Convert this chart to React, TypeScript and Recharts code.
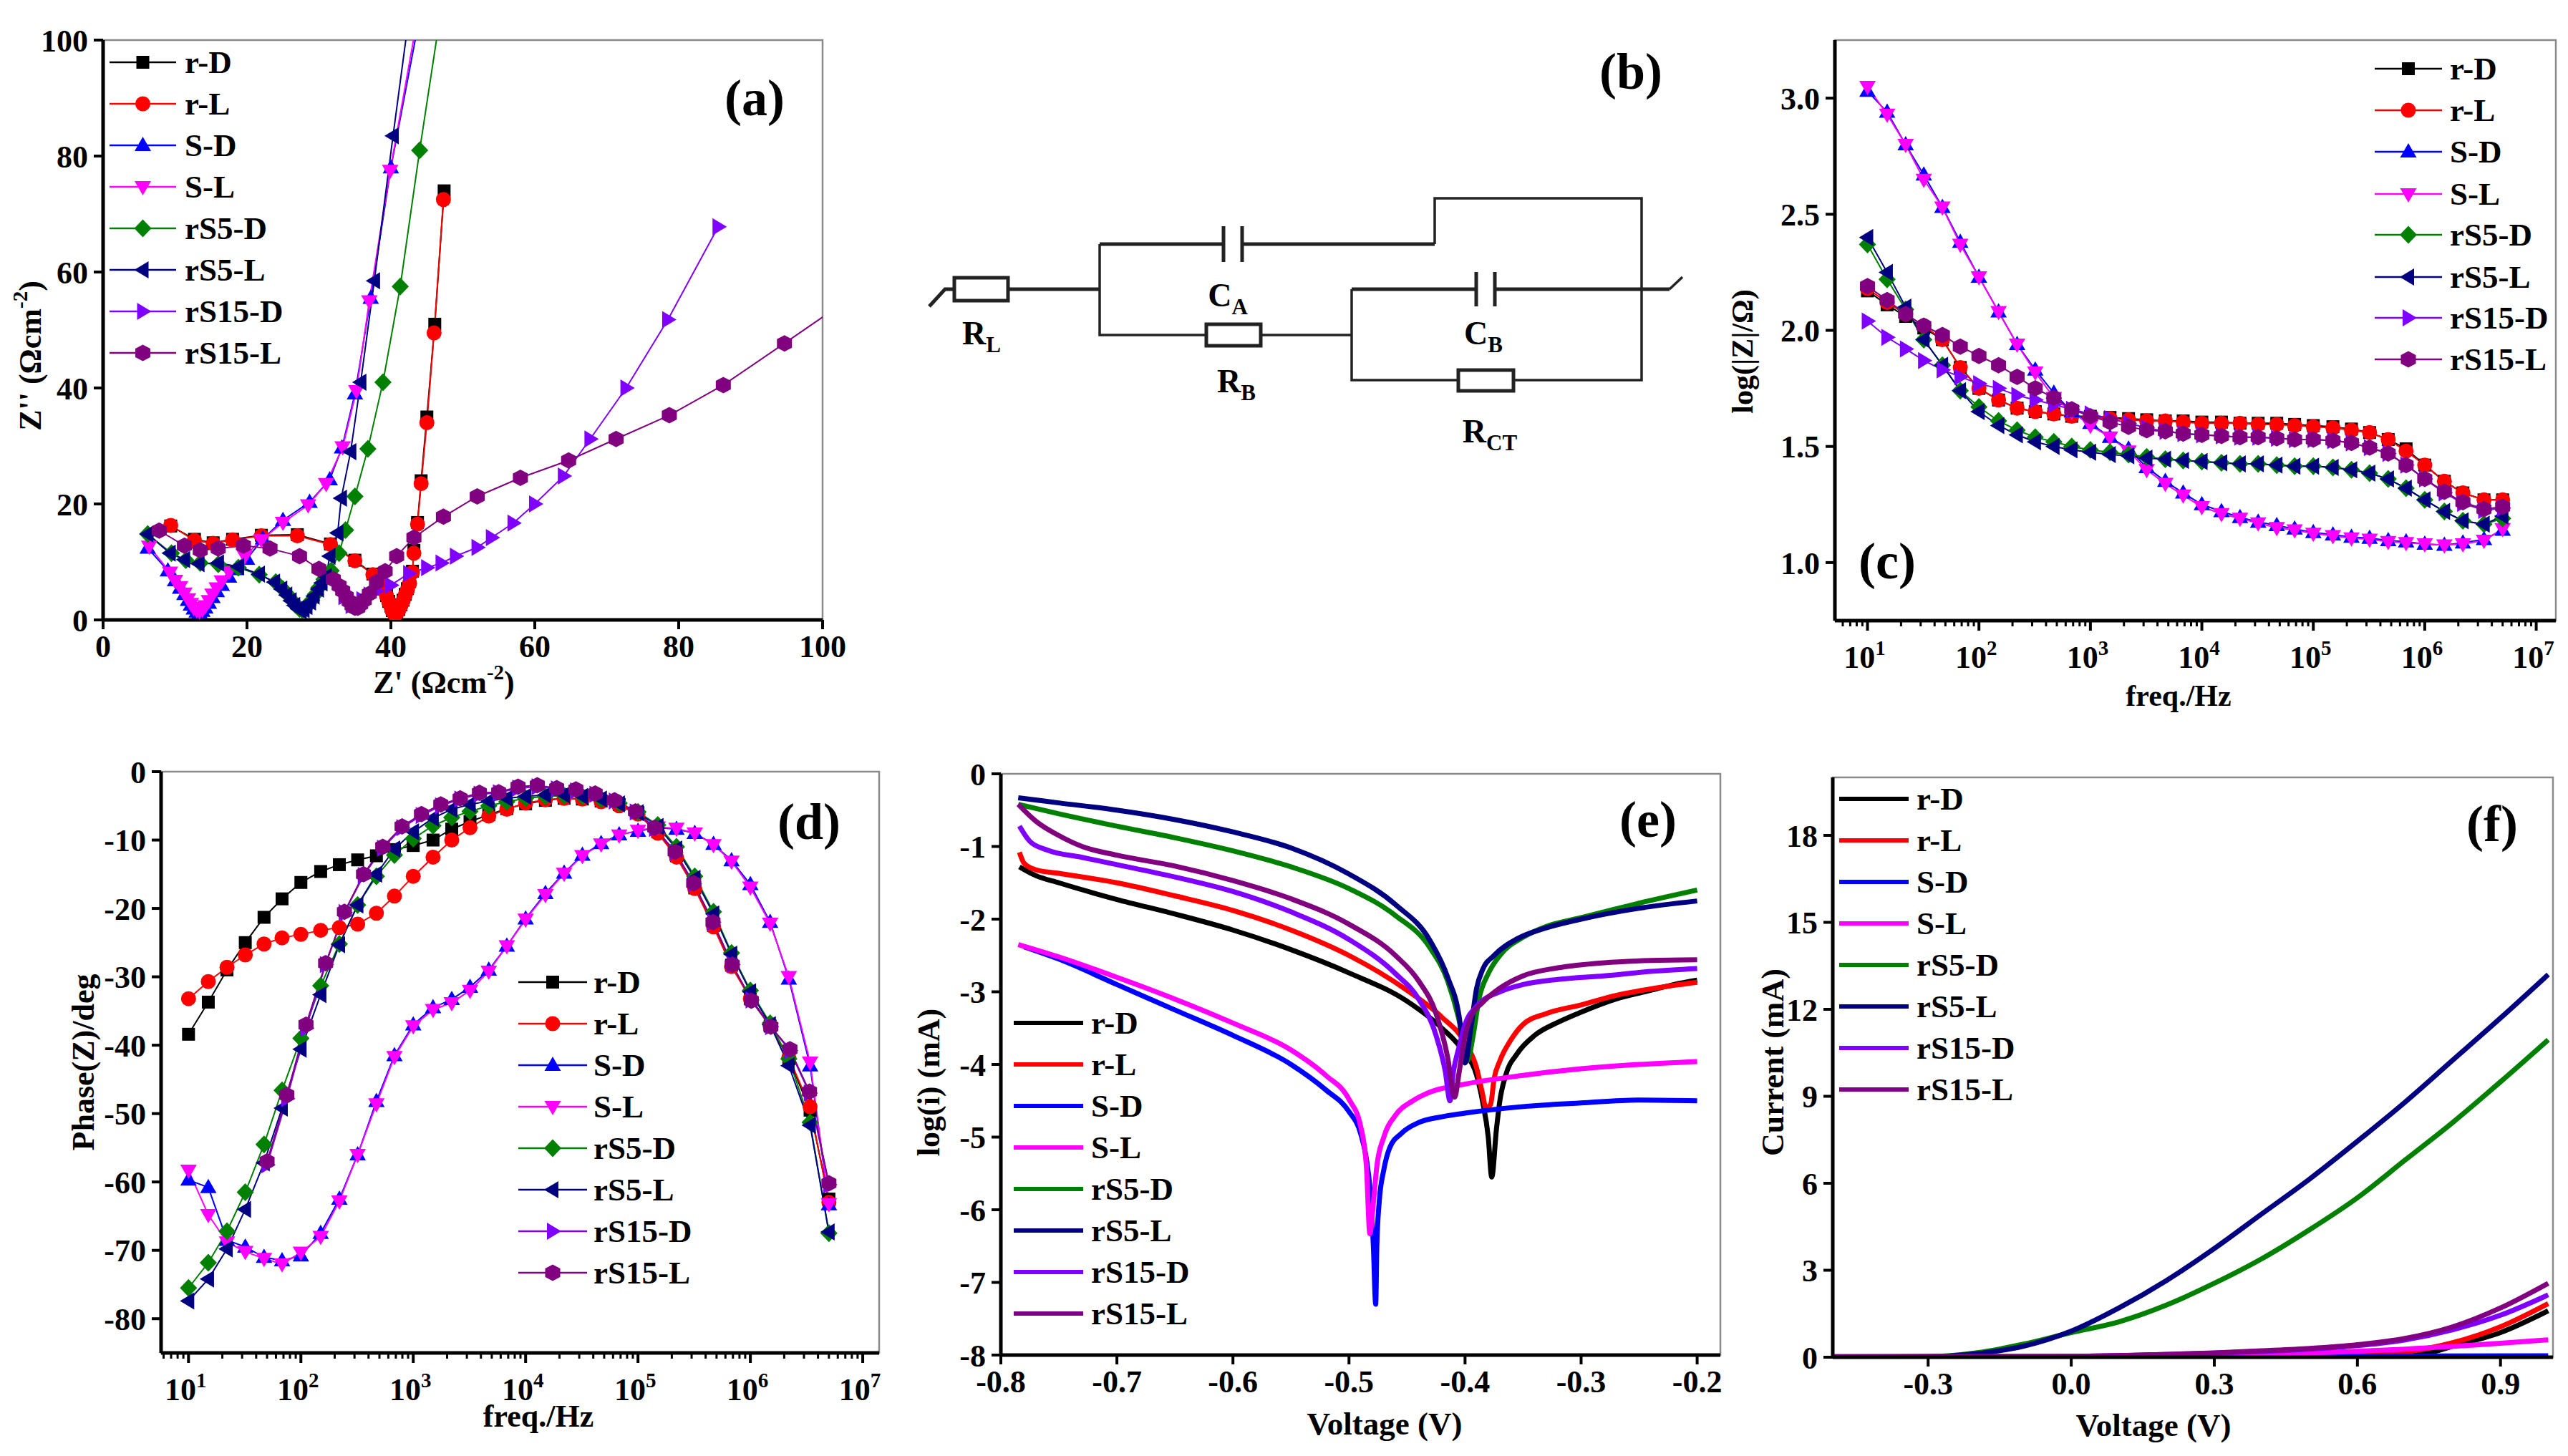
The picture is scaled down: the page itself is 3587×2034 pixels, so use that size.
import React from "react";
import { LineChart, Line, XAxis, YAxis, ReferenceArea } from "recharts";

const FONT = "'Liberation Serif', 'Times New Roman', serif";
const NAMES = ["r-D", "r-L", "S-D", "S-L", "rS5-D", "rS5-L", "rS15-D", "rS15-L"];
const COLORS = ["#000000", "#ff0000", "#0000ff", "#ff00ff", "#008000", "#000080", "#8000ff", "#800080"];
const SHAPES = ["square", "circle", "up", "down", "diamond", "left", "right", "hex"];

// ---------- Panel (a): Nyquist [Z', Z''] ----------
const aRD = [[9.4,16.2],[12.7,13.9],[15.3,13.3],[18,13.9],[22,14.6],[27,14.7],[31.6,13.1],[35,10.3],[37.5,7.9],[38.5,6.5],[39,5.3],[39.4,4.2],[39.7,3.2],[40,2.4],[40.2,1.6],[40.5,1.1],[40.8,1.2],[41.1,1.8],[41.4,2.6],[41.7,3.4],[42,4.4],[42.3,5.4],[42.6,6.6],[43,8.4],[43.2,12],[43.7,16.8],[44.2,24],[45,35],[46.1,51],[47.4,74]];
const aRL = [[9.4,16.3],[12.7,13.7],[15.3,13.2],[18,13.8],[22,14.5],[27,14.5],[31.6,13],[35,10.2],[37.5,7.8],[38.5,6.3],[39,5.2],[39.4,4.1],[39.7,3.1],[40,2.3],[40.2,1.5],[40.5,1],[40.8,1.1],[41.1,1.7],[41.4,2.5],[41.7,3.3],[42,4.3],[42.3,5.2],[42.6,6.3],[43,8.2],[43.2,11.5],[43.7,16.5],[44.2,23.5],[45,34],[46,49.5],[47.3,72.5]];
const aSD = [[6.2,12.4],[9,8.5],[10,6.8],[10.7,5.5],[11.3,4.4],[11.8,3.4],[12.2,2.6],[12.6,1.9],[13,1.4],[13.4,1.2],[13.8,1.5],[14.2,2.1],[14.7,2.9],[15.2,3.9],[15.8,4.9],[16.5,6],[17.5,7.4],[18.5,8.7],[20,10.5],[22.2,14],[25,17.2],[28.7,20.3],[31.5,24.2],[33.2,29.7],[35,39],[37.2,55.5],[40,78],[44.3,106]];
const aSL = [[6.4,12.7],[9.3,8.2],[10,6.8],[10.7,5.7],[11.3,4.6],[11.8,3.6],[12.2,2.8],[12.6,2.1],[13,1.7],[13.4,1.5],[13.8,1.8],[14.2,2.4],[14.7,3.3],[15.2,4.4],[15.8,5.5],[16.5,6.7],[17.5,8.3],[19.7,11],[22,13.8],[25,16.8],[28.5,19.8],[31,23.5],[33.3,29.8],[35.2,39.5],[37,55],[39.9,77.5],[44,106]];
const aS5D = [[6.2,14.8],[9.5,11.5],[11.5,10.3],[13.5,9.8],[16,9.6],[18.8,9],[21.7,7.8],[24,6.5],[25,5.3],[25.7,4.3],[26.3,3.3],[26.8,2.5],[27.3,1.9],[27.7,1.7],[28.1,2],[28.5,2.6],[29,3.4],[29.5,4.4],[30,5.6],[30.7,7],[31.7,8.5],[32.8,11.5],[33.7,15.5],[35,21.3],[36.8,29.5],[38.9,41],[41.3,57.5],[44,81],[46.7,103]];
const aS5L = [[6.2,14.8],[9.3,11.5],[11.3,10.4],[13.3,9.7],[16,9.8],[18.8,9.2],[21.7,7.9],[23.8,6.5],[24.8,5.3],[25.5,4.3],[26.1,3.3],[26.6,2.5],[27.1,1.9],[27.5,1.6],[27.9,1.8],[28.3,2.3],[28.8,3.1],[29.3,4.1],[29.9,5.3],[30.4,6.4],[31,7.5],[31.5,11],[32.6,15],[33.1,21],[34.4,29],[35.8,41],[37.7,58.5],[40.3,83.5],[42.5,104]];
const aS15D = [[33.5,4],[34.5,2.5],[35.2,2.6],[36,3.5],[37,4.3],[38,5],[40,6],[42.5,8],[45,9],[47,9.8],[49,11],[52,12.5],[54,14.2],[57,16.7],[60,20],[64,24.8],[67.7,31.2],[72.7,40],[78.5,51.8],[85.5,67.8]];
const aS15L = [[7.8,15.4],[11.3,12.8],[13.5,12],[16,12.3],[19.5,12.8],[23.2,12.3],[27.3,11],[30,8.8],[32,7],[32.8,5.9],[33.3,5],[33.8,4],[34.2,3.2],[34.6,2.5],[35,2.1],[35.4,2.1],[35.8,2.7],[36.3,3.4],[37,4.5],[38,6.5],[39.2,8.4],[40.8,11],[43.2,14.2],[47.3,17.8],[52,21.3],[58,24.5],[64.7,27.5],[71.3,31.2],[78.7,35.3],[86.2,40.5],[94.7,47.7],[101.5,53.5]];

// ---------- Frequencies ----------
const freq = [10,15,22,32,47,68,100,150,220,320,470,680,1000,1500,2200,3200,4700,6800,10000,15000,22000,32000,47000,68000,100000,150000,220000,320000,470000,680000,1000000,1500000,2200000,3400000,5000000];
const freqS15 = [50,75,111,166,244,361,535,795,1183,1758,2612,3880,5760,8560,12700,18900,28000,41600,61800,95000,141000,214000,313000,465000,690000,1020000,1520000,2250000,3360000,5000000];

// ---------- Panel (c): log|Z| ----------
const cRD = [2.17,2.11,2.06,2.01,1.96,1.84,1.75,1.70,1.665,1.65,1.64,1.63,1.63,1.625,1.62,1.615,1.61,1.61,1.605,1.605,1.60,1.60,1.60,1.595,1.59,1.585,1.575,1.56,1.53,1.49,1.42,1.35,1.30,1.27,1.27];
const cRL = [2.18,2.12,2.07,2.02,1.96,1.84,1.75,1.70,1.665,1.65,1.64,1.63,1.625,1.62,1.615,1.61,1.61,1.605,1.60,1.60,1.60,1.595,1.595,1.59,1.585,1.58,1.57,1.56,1.53,1.48,1.42,1.35,1.30,1.27,1.27];
const cSD = [3.03,2.94,2.80,2.67,2.53,2.38,2.23,2.08,1.94,1.83,1.73,1.65,1.60,1.54,1.49,1.41,1.35,1.30,1.25,1.22,1.195,1.175,1.16,1.145,1.13,1.12,1.11,1.105,1.095,1.09,1.08,1.075,1.085,1.10,1.14];
const cSL = [3.05,2.93,2.80,2.65,2.53,2.37,2.23,2.08,1.94,1.82,1.71,1.65,1.59,1.54,1.48,1.40,1.34,1.29,1.24,1.21,1.19,1.17,1.15,1.14,1.125,1.115,1.105,1.10,1.09,1.085,1.08,1.075,1.08,1.095,1.145];
const cS5D = [2.37,2.22,2.09,1.96,1.85,1.74,1.67,1.61,1.57,1.54,1.52,1.50,1.485,1.475,1.465,1.455,1.445,1.44,1.435,1.43,1.425,1.425,1.42,1.415,1.415,1.41,1.40,1.385,1.36,1.32,1.27,1.22,1.18,1.165,1.19];
const cS5L = [2.40,2.25,2.10,1.96,1.85,1.74,1.65,1.59,1.55,1.52,1.50,1.485,1.475,1.465,1.46,1.45,1.445,1.44,1.435,1.43,1.425,1.425,1.42,1.415,1.415,1.41,1.40,1.385,1.36,1.32,1.27,1.22,1.18,1.165,1.20];
const cS15D = [2.04,1.97,1.92,1.87,1.83,1.80,1.77,1.75,1.72,1.70,1.68,1.66,1.64,1.62,1.60,1.58,1.565,1.555,1.55,1.545,1.54,1.54,1.535,1.53,1.53,1.525,1.515,1.495,1.47,1.42,1.36,1.30,1.255,1.225,1.235];
const cS15L = [2.19,2.13,2.07,2.02,1.98,1.93,1.89,1.85,1.80,1.75,1.71,1.66,1.63,1.605,1.585,1.57,1.565,1.555,1.55,1.545,1.54,1.54,1.535,1.53,1.53,1.525,1.515,1.495,1.47,1.42,1.36,1.305,1.26,1.23,1.24];

// ---------- Panel (d): phase ----------
const dRD = [-38.4,-33.7,-29,-25,-21.3,-18.6,-16.2,-14.6,-13.6,-12.9,-12.3,-11.4,-10.8,-10,-8.4,-7.3,-6.3,-5.4,-4.7,-4.2,-3.9,-4,-4.3,-4.8,-6,-8.8,-12.3,-17,-22.5,-28.3,-33,-37.2,-42,-49.5,-62.5];
const dRL = [-33.2,-30.7,-28.6,-26.8,-25.2,-24.3,-23.8,-23.2,-22.8,-22.3,-20.7,-18.2,-15.3,-12.5,-10,-8.2,-6.5,-5.5,-4.6,-4.1,-3.9,-4,-4.4,-5,-6.2,-9,-12.5,-17.1,-22.7,-28.5,-33.2,-37.2,-41.8,-49,-63];
const dSD = [-59.7,-60.8,-68.5,-69.5,-71,-71.5,-70.8,-67.5,-62.5,-56,-48.2,-41.5,-37,-34.5,-33.3,-31.5,-29,-25.5,-21.5,-17.8,-14.8,-12.2,-10.5,-9.2,-8.7,-8.2,-8.4,-9,-10.6,-13,-16.5,-22,-30.3,-43,-63.3];
const dSL = [-58.3,-64.8,-68.8,-70.2,-71.2,-72,-70.3,-68,-62.8,-56,-48.6,-41.7,-37.2,-34.8,-33.8,-32,-29.2,-25.5,-21.6,-18,-14.9,-12.3,-10.6,-9.3,-8.6,-8.1,-8.3,-9,-10.7,-13.1,-16.9,-22.2,-30,-42.5,-63.2];
const dS5D = [-75.5,-71.8,-67.2,-61.5,-54.5,-46.6,-39,-31.3,-25.2,-19.5,-15.3,-12.2,-9.8,-7.9,-6.7,-5.8,-5,-4.4,-3.9,-3.6,-3.5,-3.6,-4,-4.6,-5.9,-7.8,-11,-15.3,-20.5,-26.5,-32,-36.8,-42,-51.3,-67.5];
const dS5L = [-77.4,-74.2,-69.8,-64,-57.2,-49.2,-40.6,-32.6,-25.3,-19.5,-15,-11.3,-8.8,-6.8,-5.5,-4.8,-4.3,-3.9,-3.6,-3.4,-3.4,-3.6,-4,-4.7,-6,-8,-11.3,-15.6,-20.8,-26.7,-32.2,-37,-43,-51.7,-67.3];
const dS15D = [-57.5,-47.8,-37.5,-28.2,-20.6,-15.2,-11.2,-8.2,-6.4,-5,-4,-3.3,-3.1,-2.4,-2.2,-2.5,-2.8,-3.3,-4.3,-5.9,-8.3,-11.8,-16.4,-22,-28.2,-33.4,-37.3,-40.8,-47,-60.4];
const dS15L = [-57,-47.3,-37,-28,-20.5,-15,-11,-8,-6.2,-4.8,-3.9,-3.1,-3,-2.2,-2,-2.4,-2.6,-3.2,-4.2,-5.8,-8.2,-11.7,-16.3,-22,-28.2,-33.5,-37.3,-40.6,-46.8,-60.2];

// ---------- Panel (e): Tafel [V, log i] ----------
const eRD = [[-0.784,-1.28],[-0.77,-1.4],[-0.75,-1.5],[-0.7,-1.73],[-0.65,-1.93],[-0.6,-2.15],[-0.55,-2.42],[-0.5,-2.74],[-0.45,-3.13],[-0.42,-3.5],[-0.4,-3.85],[-0.39,-4.15],[-0.385,-4.5],[-0.38,-5],[-0.377,-5.55],[-0.373,-4.9],[-0.37,-4.5],[-0.365,-4.15],[-0.355,-3.85],[-0.34,-3.6],[-0.32,-3.42],[-0.3,-3.28],[-0.27,-3.1],[-0.24,-2.98],[-0.22,-2.9],[-0.2,-2.84]];
const eRL = [[-0.784,-1.08],[-0.78,-1.23],[-0.77,-1.32],[-0.75,-1.37],[-0.7,-1.5],[-0.65,-1.68],[-0.6,-1.88],[-0.55,-2.15],[-0.5,-2.5],[-0.45,-2.98],[-0.42,-3.35],[-0.4,-3.7],[-0.39,-4.05],[-0.385,-4.4],[-0.382,-4.6],[-0.378,-4.55],[-0.375,-4.2],[-0.37,-3.95],[-0.36,-3.65],[-0.35,-3.45],[-0.33,-3.3],[-0.3,-3.18],[-0.27,-3.05],[-0.24,-2.96],[-0.2,-2.87]];
const eSD = [[-0.78,-2.38],[-0.75,-2.55],[-0.7,-2.9],[-0.65,-3.25],[-0.6,-3.6],[-0.55,-4],[-0.52,-4.35],[-0.5,-4.65],[-0.49,-4.95],[-0.485,-5.3],[-0.482,-5.7],[-0.479,-6.5],[-0.477,-7.3],[-0.476,-6.5],[-0.474,-5.9],[-0.47,-5.45],[-0.465,-5.15],[-0.455,-4.95],[-0.44,-4.8],[-0.42,-4.72],[-0.4,-4.67],[-0.35,-4.58],[-0.3,-4.53],[-0.25,-4.49],[-0.2,-4.5]];
const eSL = [[-0.785,-2.35],[-0.75,-2.52],[-0.7,-2.8],[-0.65,-3.1],[-0.6,-3.43],[-0.55,-3.8],[-0.52,-4.15],[-0.5,-4.48],[-0.49,-4.85],[-0.485,-5.4],[-0.482,-6.33],[-0.479,-5.9],[-0.476,-5.4],[-0.47,-5],[-0.46,-4.7],[-0.445,-4.5],[-0.43,-4.38],[-0.4,-4.27],[-0.35,-4.15],[-0.3,-4.06],[-0.25,-4],[-0.2,-3.96]];
const eS5D = [[-0.785,-0.42],[-0.75,-0.55],[-0.7,-0.72],[-0.65,-0.88],[-0.6,-1.06],[-0.55,-1.28],[-0.5,-1.58],[-0.46,-1.95],[-0.43,-2.4],[-0.415,-2.85],[-0.405,-3.4],[-0.398,-3.95],[-0.393,-3.6],[-0.388,-3.1],[-0.38,-2.75],[-0.37,-2.5],[-0.35,-2.25],[-0.33,-2.1],[-0.3,-1.98],[-0.25,-1.78],[-0.2,-1.6]];
const eS5L = [[-0.785,-0.33],[-0.75,-0.4],[-0.7,-0.5],[-0.65,-0.63],[-0.6,-0.8],[-0.55,-1.02],[-0.5,-1.38],[-0.46,-1.8],[-0.43,-2.3],[-0.415,-2.8],[-0.405,-3.35],[-0.4,-3.98],[-0.395,-3.5],[-0.39,-2.95],[-0.385,-2.7],[-0.375,-2.5],[-0.355,-2.27],[-0.33,-2.12],[-0.3,-2],[-0.25,-1.85],[-0.2,-1.75]];
const eS15D = [[-0.784,-0.72],[-0.775,-0.93],[-0.76,-1.05],[-0.73,-1.15],[-0.7,-1.25],[-0.65,-1.42],[-0.6,-1.62],[-0.55,-1.9],[-0.5,-2.28],[-0.46,-2.75],[-0.44,-3.1],[-0.425,-3.6],[-0.417,-4.1],[-0.413,-4.5],[-0.41,-4.1],[-0.405,-3.75],[-0.4,-3.45],[-0.39,-3.2],[-0.37,-3],[-0.35,-2.9],[-0.32,-2.83],[-0.28,-2.78],[-0.24,-2.72],[-0.2,-2.68]];
const eS15L = [[-0.785,-0.42],[-0.77,-0.65],[-0.75,-0.85],[-0.73,-1],[-0.7,-1.12],[-0.65,-1.27],[-0.6,-1.47],[-0.55,-1.72],[-0.5,-2.07],[-0.46,-2.5],[-0.44,-2.85],[-0.425,-3.3],[-0.415,-3.9],[-0.409,-4.45],[-0.405,-4.1],[-0.4,-3.6],[-0.395,-3.35],[-0.385,-3.15],[-0.37,-2.95],[-0.35,-2.78],[-0.32,-2.67],[-0.28,-2.6],[-0.24,-2.57],[-0.2,-2.56]];

// ---------- Panel (f): I-V [V, I] ----------
const fRD = [[-0.5,0],[0,0],[0.6,0.02],[0.7,0.05],[0.75,0.15],[0.8,0.38],[0.9,0.85],[1,1.6]];
const fRL = [[-0.5,0],[0,0.01],[0.5,0.02],[0.6,0.05],[0.7,0.18],[0.8,0.5],[0.9,1.05],[1,1.85]];
const fSD = [[-0.5,0],[0,0.01],[0.5,0.03],[1,0.05]];
const fSL = [[-0.5,0],[0,0.02],[0.3,0.08],[0.5,0.15],[0.7,0.28],[0.9,0.48],[1,0.6]];
const fS5D = [[-0.5,0],[-0.3,0.02],[-0.2,0.15],[-0.1,0.45],[0,0.85],[0.1,1.22],[0.2,1.8],[0.3,2.55],[0.4,3.4],[0.5,4.4],[0.6,5.5],[0.7,6.8],[0.8,8.1],[0.9,9.5],[1,10.95]];
const fS5L = [[-0.5,0],[-0.3,0.02],[-0.2,0.12],[-0.1,0.38],[0,0.9],[0.1,1.7],[0.2,2.65],[0.3,3.75],[0.4,4.95],[0.5,6.15],[0.6,7.45],[0.7,8.8],[0.8,10.25],[0.9,11.7],[1,13.2]];
const fS15D = [[-0.5,0.02],[0,0.03],[0.2,0.09],[0.3,0.14],[0.4,0.2],[0.5,0.28],[0.6,0.4],[0.7,0.6],[0.8,0.95],[0.9,1.45],[1,2.15]];
const fS15L = [[-0.5,0.02],[0,0.03],[0.2,0.1],[0.3,0.15],[0.4,0.22],[0.5,0.3],[0.6,0.43],[0.7,0.65],[0.8,1.05],[0.9,1.7],[1,2.55]];

// ---------- Axis ticks ----------
const aTicks = [0, 20, 40, 60, 80, 100];
const cYTicks = [1, 1.5, 2, 2.5, 3];
const dYTicks = [0, -10, -20, -30, -40, -50, -60, -70, -80];
const eXTicks = [-0.8, -0.7, -0.6, -0.5, -0.4, -0.3, -0.2];
const eYTicks = [0, -1, -2, -3, -4, -5, -6, -7, -8];
const fXTicks = [-0.3, 0, 0.3, 0.6, 0.9];
const fYTicks = [0, 3, 6, 9, 12, 15, 18];
const logTicks = [6,7,8,9,10,20,30,40,50,60,70,80,90,100,200,300,400,500,600,700,800,900,1000,2000,3000,4000,5000,6000,7000,8000,9000,10000,20000,30000,40000,50000,60000,70000,80000,90000,100000,200000,300000,400000,500000,600000,700000,800000,900000,1000000,2000000,3000000,4000000,5000000,6000000,7000000,8000000,9000000,10000000];

const pairs = (arr: number[][]) => arr.map(([x, y]) => ({ x, y }));
const zip = (xs: number[], ys: number[]) => ys.map((y, i) => ({ x: xs[i], y }));

const seriesA = [aRD, aRL, aSD, aSL, aS5D, aS5L, aS15D, aS15L].map(pairs);
const seriesC = [cRD, cRL, cSD, cSL, cS5D, cS5L, cS15D, cS15L].map((v) => zip(freq, v));
const seriesD = [dRD, dRL, dSD, dSL, dS5D, dS5L].map((v) => zip(freq, v)).concat([dS15D, dS15L].map((v) => zip(freqS15, v)));
const seriesE = [eRD, eRL, eSD, eSL, eS5D, eS5L, eS15D, eS15L].map(pairs);
const seriesF = [fRD, fRL, fSD, fSL, fS5D, fS5L, fS15D, fS15L].map(pairs);

function Marker({ cx, cy, shape, color, k = 1 }: any) {
  const p = (pts: number[][]) => pts.map(([a, b]) => `${cx + a * k},${cy + b * k}`).join(" ");
  if (shape === "square") return <rect x={cx - 9 * k} y={cy - 9 * k} width={18 * k} height={18 * k} fill={color} />;
  if (shape === "circle") return <circle cx={cx} cy={cy} r={10.5 * k} fill={color} />;
  const d: Record<string, number[][]> = {
    up: [[0, -12], [11.5, 8], [-11.5, 8]],
    down: [[0, 12], [11.5, -8], [-11.5, -8]],
    diamond: [[0, -12.5], [12, 0], [0, 12.5], [-12, 0]],
    left: [[-12, 0], [8, -12], [8, 12]],
    right: [[12, 0], [-8, -12], [-8, 12]],
    hex: [[0, -11.5], [10.5, -6], [10.5, 6], [0, 11.5], [-10.5, 6], [-10.5, -6]],
  };
  return <polygon points={p(d[shape])} fill={color} />;
}

function LogTick({ x, y, payload }: any) {
  const e = Math.log10(payload.value);
  const major = Math.abs(e - Math.round(e)) < 1e-6;
  return (
    <g>
      <line x1={x} x2={x} y1={y} y2={y + (major ? 14 : 8)} stroke="#000" strokeWidth={major ? 4 : 3} />
      {major && (
        <text x={x - 4} y={y + 66} textAnchor="middle" fontFamily={FONT} fontWeight="bold" fontSize={44} fill="#000">
          10
          <tspan dy={-18} fontSize={29}>{Math.round(e)}</tspan>
        </text>
      )}
    </g>
  );
}

const ML = 170, MR = 60, MT = 40, MB = 130;
const tickStyle = { fontFamily: FONT, fontWeight: "bold", fontSize: 44, fill: "#000" };

function Panel({ box, xDomain, yDomain, xTicks, yTicks, xLog, xFmt, yFmt, series, width, markers, curve }: any) {
  const W = box.r - box.l + ML + MR;
  const H = box.b - box.t + MT + MB;
  return (
    <div style={{ position: "absolute", left: box.l - ML, top: box.t - MT }}>
      <LineChart width={W} height={H} margin={{ top: MT, right: MR, left: 0, bottom: 0 }}>
        <XAxis
          dataKey="x"
          type="number"
          scale={xLog ? "log" : "linear"}
          domain={xDomain}
          ticks={xTicks}
          interval={0}
          height={MB}
          allowDataOverflow
          axisLine={{ stroke: "#000", strokeWidth: 5 }}
          tickLine={xLog ? false : { stroke: "#000", strokeWidth: 4 }}
          tickSize={xLog ? 0 : 13}
          tickMargin={xLog ? 0 : 8}
          tick={xLog ? <LogTick /> : tickStyle}
          tickFormatter={xFmt}
        />
        <YAxis
          type="number"
          domain={yDomain}
          ticks={yTicks}
          interval={0}
          width={ML}
          allowDataOverflow
          axisLine={{ stroke: "#000", strokeWidth: 5 }}
          tickLine={{ stroke: "#000", strokeWidth: 4 }}
          tickSize={13}
          tickMargin={8}
          tick={tickStyle}
          tickFormatter={yFmt}
        />
        <ReferenceArea x1={xDomain[0]} x2={xDomain[1]} y1={yDomain[0]} y2={yDomain[1]} fill="none" stroke="#8a8a8a" strokeWidth={2.5} ifOverflow="visible" />
        {series.map((d: any[], i: number) => (
          <Line
            key={NAMES[i]}
            name={NAMES[i]}
            data={d}
            dataKey="y"
            type={curve || "linear"}
            stroke={COLORS[i]}
            strokeWidth={width}
            isAnimationActive={false}
            dot={
              markers
                ? (p: any) => <Marker key={`${NAMES[i]}-${p.index}`} cx={p.cx} cy={p.cy} shape={SHAPES[i]} color={COLORS[i]} />
                : false
            }
          />
        ))}
      </LineChart>
    </div>
  );
}

function LegendBlock({ x1, x2, textX, ys, markers, width }: any) {
  return (
    <g>
      {NAMES.map((n, i) => (
        <g key={n}>
          <line x1={x1} x2={x2} y1={ys[i]} y2={ys[i]} stroke={COLORS[i]} strokeWidth={width} />
          {markers && <Marker cx={(x1 + x2) / 2} cy={ys[i]} shape={SHAPES[i]} color={COLORS[i]} />}
          <text x={textX} y={ys[i] + 15} fontFamily={FONT} fontWeight="bold" fontSize={45} fill="#000">{n}</text>
        </g>
      ))}
    </g>
  );
}

const T = ({ x, y, size = 45, rot, anchor = "middle", children }: any) => (
  <text
    x={x}
    y={y}
    fontFamily={FONT}
    fontWeight="bold"
    fontSize={size}
    fill="#000"
    textAnchor={anchor}
    dominantBaseline="central"
    transform={rot ? `rotate(${rot} ${x} ${y})` : undefined}
  >
    {children}
  </text>
);

const Sub = ({ x, y, main, sub }: any) => (
  <text x={x} y={y} fontFamily={FONT} fontWeight="bold" fontSize={46} fill="#000" textAnchor="middle">
    {main}
    <tspan dy={11} fontSize={31}>{sub}</tspan>
  </text>
);

function Circuit() {
  const thin = { stroke: "#222", strokeWidth: 3.5, fill: "none" };
  const thick = { stroke: "#222", strokeWidth: 5, fill: "none" };
  return (
    <g>
      <path d="M1298 428 L1320 404 H1333" {...thick} />
      <rect x={1333} y={388} width={75} height={32} {...thick} />
      <path d="M1408 404 H1536" {...thick} />
      <path d="M1536 341 V468 H1685" {...thin} />
      <path d="M1536 341 H1709 M1735 341 H2004" {...thick} />
      <path d="M1709 316 V366 M1735 316 V366" {...thick} />
      <path d="M2004 341 V277 H2293 V531 H2114" {...thin} />
      <rect x={1685} y={453} width={76} height={30} {...thick} />
      <path d="M1761 468 H1888 M1888 404 V531 H2037" {...thin} />
      <path d="M1888 404 H2062 M2088 404 H2332" {...thick} />
      <path d="M2062 380 V428 M2088 380 V428" {...thick} />
      <path d="M2332 404 L2350 387" {...thin} />
      <rect x={2037} y={517} width={77} height={29} {...thick} />
      <Sub x={1371} y={481} main="R" sub="L" />
      <Sub x={1715} y={428} main="C" sub="A" />
      <Sub x={1727} y={548} main="R" sub="B" />
      <Sub x={2072} y={481} main="C" sub="B" />
      <Sub x={2081} y={618} main="R" sub="CT" />
    </g>
  );
}

const Ohm = ({ prefix }: any) => (
  <>
    {prefix} (Ωcm<tspan dy={-14} fontSize={29}>-2</tspan><tspan dy={14}>)</tspan>
  </>
);

export default function App() {
  return (
    <div style={{ position: "absolute", left: 0, top: 0, width: 3587, height: 2034, background: "#fff", overflow: "hidden" }}>
      <Panel box={{ l: 144, r: 1149, t: 56, b: 866 }} xDomain={[0, 100]} yDomain={[0, 100]} xTicks={aTicks} yTicks={aTicks} series={seriesA} width={2} markers />
      <Panel box={{ l: 2563, r: 3570, t: 56, b: 867 }} xLog xDomain={[5.1, 15000000]} yDomain={[0.75, 3.25]} xTicks={logTicks} yTicks={cYTicks} yFmt={(v: number) => v.toFixed(1)} series={seriesC} width={2} markers />
      <Panel box={{ l: 225, r: 1228, t: 1078, b: 1890 }} xLog xDomain={[5.7, 14000000]} yDomain={[-85, 0]} xTicks={logTicks} yTicks={dYTicks} series={seriesD} width={2} markers />
      <Panel box={{ l: 1398, r: 2403, t: 1081, b: 1893 }} xDomain={[-0.8, -0.18]} yDomain={[-8, 0]} xTicks={eXTicks} yTicks={eYTicks} xFmt={(v: number) => v.toFixed(1)} series={seriesE} width={7} curve="monotoneX" />
      <Panel box={{ l: 2560, r: 3566, t: 1086, b: 1896 }} xDomain={[-0.5, 1.01]} yDomain={[0, 20]} xTicks={fXTicks} yTicks={fYTicks} xFmt={(v: number) => v.toFixed(1)} series={seriesF} width={7} curve="monotoneX" />

      <svg width={3587} height={2034} style={{ position: "absolute", left: 0, top: 0, pointerEvents: "none" }}>
        <Circuit />

        <LegendBlock x1={153} x2={246} textX={258} ys={[87, 145, 203, 261, 319, 377, 435, 493]} markers width={2.5} />
        <LegendBlock x1={3317} x2={3411} textX={3422} ys={[96, 154, 212, 271, 328, 387, 444, 502]} markers width={2.5} />
        <LegendBlock x1={724} x2={820} textX={829} ys={[1372, 1430, 1488, 1546, 1604, 1662, 1720, 1778]} markers width={2.5} />
        <LegendBlock x1={1416} x2={1513} textX={1524} ys={[1429, 1487, 1545, 1603, 1661, 1719, 1777, 1835]} width={6} />
        <LegendBlock x1={2569} x2={2666} textX={2677} ys={[1116, 1174, 1232, 1290, 1348, 1406, 1464, 1522]} width={6} />

        <T x={1054} y={137} size={72}>(a)</T>
        <T x={2278} y={100} size={72}>(b)</T>
        <T x={2636} y={784} size={72}>(c)</T>
        <T x={1130} y={1148} size={72}>(d)</T>
        <T x={2302} y={1145} size={72}>(e)</T>
        <T x={3481} y={1151} size={72}>(f)</T>

        <T x={620} y={953} size={44}><Ohm prefix="Z'" /></T>
        <T x={42} y={497} size={44} rot={-90}><Ohm prefix="Z''" /></T>
        <T x={3043} y={972} size={42}>freq./Hz</T>
        <T x={2434} y={491} size={42} rot={-90}>log(|Z|/Ω)</T>
        <T x={752} y={1978} size={44}>freq./Hz</T>
        <T x={116} y={1484} size={44} rot={-90}>Phase(Z)/deg</T>
        <T x={1934} y={1989} size={45}>Voltage (V)</T>
        <T x={1297} y={1512} size={44} rot={-90}>log(i) (mA)</T>
        <T x={3008} y={1991} size={45}>Voltage (V)</T>
        <T x={2476} y={1484} size={44} rot={-90}>Current (mA)</T>
      </svg>
    </div>
  );
}
